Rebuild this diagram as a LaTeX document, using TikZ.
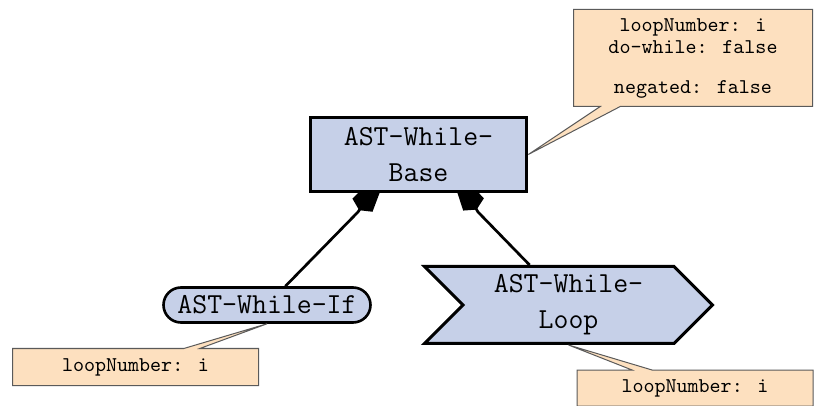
\documentclass[tikz,border=0pt]{standalone}
\usepackage{fontspec}
\usetikzlibrary{shapes.symbols,shapes.misc,shapes.callouts,arrows.meta,backgrounds}
\definecolor{nodefill}{RGB}{198,208,232}
\definecolor{notefill}{RGB}{253,224,191}
\definecolor{notedraw}{RGB}{90,90,90}
\begin{document}
\begin{tikzpicture}[x=0.5pt,y=-0.5pt,
  astnode/.style={fill=nodefill,draw=black,font=\ttfamily\fontsize{14.5pt}{18pt}\selectfont,align=center,inner sep=0pt},
  note/.style={rectangle callout,fill=notefill,draw=notedraw,line width=0.5pt,font=\ttfamily\fontsize{10.5pt}{11pt}\selectfont,align=center,inner sep=0pt},
  comp/.style={line width=1.35pt,-{Kite[length=30pt,width=12pt,inset=3pt]}}]
\clip (0,0) rectangle (814,406);
\useasboundingbox (0,0) rectangle (814,406);
\node[astnode,rectangle,line width=1.8pt,minimum width=108pt,minimum height=37pt] (Base) at (418.5,154.5) {AST-While-\\Base};
\node[astnode,rounded rectangle,line width=1.3pt,minimum width=103.5pt,minimum height=17.5pt] (If) at (267,305) {AST-While-If};
\node[astnode,signal,signal from=west,signal to=east,signal pointer angle=90,line width=1.5pt,minimum width=144pt,minimum height=38.5pt] (Loop) at (568.5,305) {AST-While-\\Loop};
\node[note,minimum width=119.5pt,minimum height=48.5pt,callout absolute pointer={(Base.east)},callout pointer width=10pt] (N1) at (693,58) {loopNumber: i\\do-while: false\\[9pt]negated: false};
\node[note,minimum width=123pt,minimum height=18.5pt,callout absolute pointer={(If.south)},callout pointer width=8pt] (N2) at (135.5,367) {loopNumber: i};
\node[note,minimum width=118pt,minimum height=18pt,callout absolute pointer={(Loop.south)},callout pointer width=10pt] (N3) at (695,388) {loopNumber: i};
\coordinate (jL) at (358,212);
\coordinate (tL) at (392,160);
\coordinate (jR) at (478,212);
\coordinate (tR) at (446,158);
\begin{pgfonlayer}{background}
\draw[comp] (If) -- (jL) -- (tL);
\draw[comp] (Loop) -- (jR) -- (tR);
\end{pgfonlayer}
\end{tikzpicture}
\end{document}
